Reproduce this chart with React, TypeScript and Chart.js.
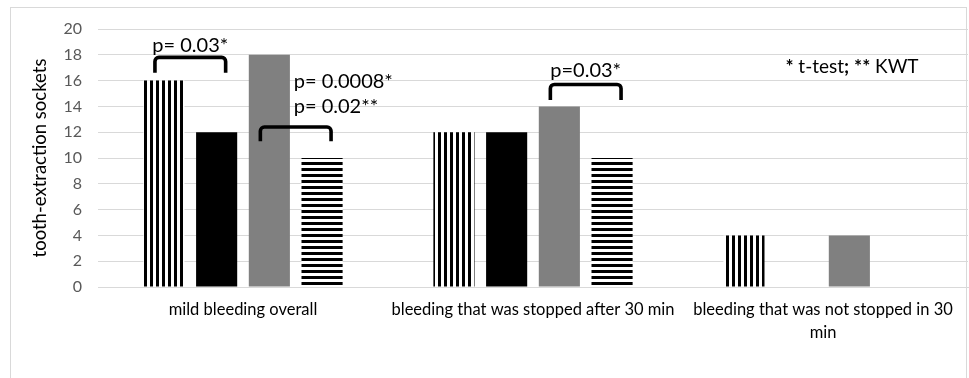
import React, { useEffect, useRef } from "react";
import { Chart, registerables } from "chart.js";

Chart.register(...registerables);

// ---------- data ----------
const categories: string[][] = [
  ["mild bleeding overall"],
  ["bleeding that was stopped after 30 min"],
  ["bleeding that was not stopped in 30", "min"],
];
const seriesNames = ["Series 1", "Series 2", "Series 3", "Series 4"];
const series1 = [16, 12, 4];
const series2 = [12, 12, 0];
const series3 = [18, 14, 4];
const series4 = [10, 10, 0];
const yMin = 0;
const yMax = 20;
const yStep = 2;
const yTitle = "tooth-extraction sockets";

// significance brackets (category index, series pair, y values in data units)
const brackets = [
  { category: 0, fromSeries: 0, toSeries: 1, top: 17.8, leg: 16.6 },
  { category: 0, fromSeries: 2, toSeries: 3, top: 12.4, leg: 11.3 },
  { category: 1, fromSeries: 2, toSeries: 3, top: 15.7, leg: 14.5 },
];
const pLabels = [
  { text: "p= 0.03*", category: 0, fromSeries: 0, toSeries: 1, y: 18.75, align: "center" },
  { text: "p= 0.0008*", category: 0, fromSeries: 2, toSeries: 3, y: 15.9, align: "left" },
  { text: "p= 0.02**", category: 0, fromSeries: 2, toSeries: 3, y: 13.95, align: "left" },
  { text: "p=0.03*", category: 1, fromSeries: 2, toSeries: 3, y: 16.8, align: "center" },
];
const noteSegments: [string, boolean][] = [
  ["*", true],
  [" t-test", false],
  [";", true],
  [" ", false],
  ["**", true],
  [" KWT", false],
];
const noteX = 2.1;
const noteY = 17.05;

const FONT = "Lato, 'Open Sans', sans-serif";

function makePattern(kind: "v" | "h"): CanvasPattern | string {
  const c = document.createElement("canvas");
  c.width = 6;
  c.height = 6;
  const g = c.getContext("2d");
  if (!g) return "#000";
  g.fillStyle = "#ffffff";
  g.fillRect(0, 0, 6, 6);
  g.fillStyle = "#000000";
  if (kind === "v") g.fillRect(0, 0, 3, 6);
  else g.fillRect(0, 0, 6, 3);
  const p = g.createPattern(c, "repeat");
  return p || "#000";
}

const framePlugin = {
  id: "frame",
  beforeDraw(chart: any) {
    const ctx = chart.ctx;
    ctx.save();
    ctx.fillStyle = "#ffffff";
    ctx.fillRect(0, 0, chart.width, chart.height);
    ctx.strokeStyle = "#d9d9d9";
    ctx.lineWidth = 1;
    ctx.strokeRect(10.5, 7.5, chart.width - 13, chart.height + 10);
    ctx.restore();
  },
};

const annotationPlugin = {
  id: "annots",
  afterDatasetsDraw(chart: any) {
    const ctx = chart.ctx;
    const y = chart.scales.y;
    const x = chart.scales.x;
    const barX = (s: number, c: number) => chart.getDatasetMeta(s).data[c].x;
    ctx.save();
    // brackets
    ctx.strokeStyle = "#000";
    ctx.lineWidth = 3.6;
    ctx.lineJoin = "round";
    ctx.lineCap = "butt";
    for (const b of brackets) {
      const x1 = barX(b.fromSeries, b.category) - 9;
      const x2 = barX(b.toSeries, b.category) + 9;
      const yt = y.getPixelForValue(b.top);
      const yl = y.getPixelForValue(b.leg);
      const r = 4;
      ctx.beginPath();
      ctx.moveTo(x1, yl);
      ctx.arcTo(x1, yt, x2, yt, r);
      ctx.arcTo(x2, yt, x2, yl, r);
      ctx.lineTo(x2, yl);
      ctx.stroke();
    }
    // p labels
    ctx.fillStyle = "#000";
    ctx.font = `20px ${FONT}`;
    ctx.textBaseline = "middle";
    for (const p of pLabels) {
      const mid = (barX(p.fromSeries, p.category) + barX(p.toSeries, p.category)) / 2;
      ctx.textAlign = p.align === "left" ? "left" : "center";
      ctx.fillText(p.text, p.align === "left" ? mid - 2 : mid, y.getPixelForValue(p.y));
    }
    // note
    const nx = x.getPixelForValue(noteX);
    const ny = y.getPixelForValue(noteY);
    let total = 0;
    const widths: number[] = [];
    for (const [t, bold] of noteSegments) {
      ctx.font = `${bold ? "bold " : ""}19px ${FONT}`;
      const w = ctx.measureText(t).width;
      widths.push(w);
      total += w;
    }
    let cx = nx - total / 2;
    ctx.textAlign = "left";
    noteSegments.forEach(([t, bold], i) => {
      ctx.font = `${bold ? "bold " : ""}19px ${FONT}`;
      ctx.fillText(t, cx, ny);
      cx += widths[i];
    });
    ctx.restore();
  },
};

export default function App() {
  const ref = useRef<HTMLCanvasElement | null>(null);
  useEffect(() => {
    if (!ref.current) return;
    const vPat = makePattern("v");
    const hPat = makePattern("h");
    const fills = [vPat, "#000000", "#808080", hPat];
    const values = [series1, series2, series3, series4];
    const chart = new Chart(ref.current, {
      type: "bar",
      data: {
        labels: categories,
        datasets: values.map((v, i) => ({
          label: seriesNames[i],
          data: v,
          backgroundColor: fills[i] as any,
          borderWidth: 0,
          categoryPercentage: 0.727,
          barPercentage: 0.78,
        })),
      },
      options: {
        responsive: false,
        animation: false,
        layout: { padding: { left: 0, right: 1, top: 29, bottom: 0 } },
        plugins: {
          legend: { display: false },
          tooltip: { enabled: false },
        },
        scales: {
          x: {
            grid: { display: false, drawTicks: false },
            border: { display: true, color: "#d9d9d9", width: 1 },
            ticks: {
              color: "#000",
              font: { family: FONT, size: 16.5, lineHeight: 1.35 },
              padding: 12,
              maxRotation: 0,
              autoSkip: false,
            },
            afterFit: (s: any) => {
              s.height = 91;
            },
          },
          y: {
            min: yMin,
            max: yMax,
            grid: { color: "#d9d9d9", lineWidth: 1, drawTicks: false },
            border: { display: false },
            ticks: {
              stepSize: yStep,
              color: "#595959",
              font: { family: FONT, size: 16 },
              padding: 16,
            },
            title: {
              display: true,
              text: yTitle,
              color: "#000",
              font: { family: FONT, size: 18.5 },
              padding: { top: 29, bottom: 0 },
            },
            afterFit: (s: any) => {
              s.width = 98;
            },
          },
        },
      },
      plugins: [framePlugin, annotationPlugin],
    });
    return () => chart.destroy();
  }, []);
  return (
    <div style={{ position: "absolute", left: 0, top: 0, width: 969, height: 378 }}>
      <canvas ref={ref} width={969} height={378} style={{ display: "block" }} />
    </div>
  );
}
